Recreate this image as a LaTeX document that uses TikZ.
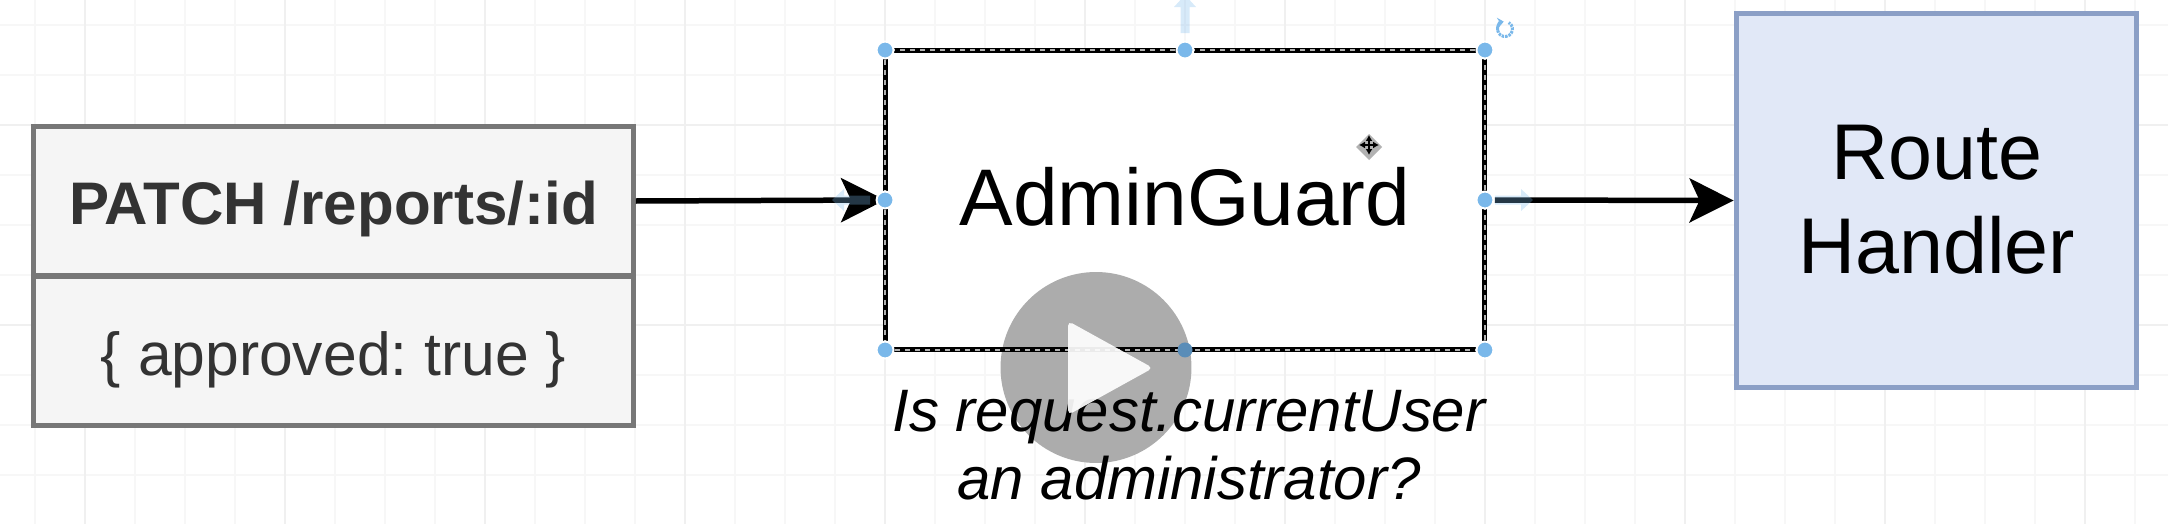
\documentclass[tikz,border=0pt]{standalone}
\usepackage{fontspec}
\setmainfont{Liberation Sans}
\usetikzlibrary{arrows.meta}
\definecolor{handleblue}{HTML}{7AB8EA}
\definecolor{handledark}{HTML}{5A8DB8}
\definecolor{tablefill}{HTML}{F5F5F5}
\definecolor{tableline}{HTML}{777777}
\definecolor{routefill}{HTML}{E1E8F7}
\definecolor{routeline}{HTML}{8B9FC6}
\definecolor{playgray}{HTML}{ACACAC}

\begin{document}
\begin{tikzpicture}[x=.02cm,y=-.02cm,
    minorline/.style={draw=black!3,line width=.04cm},
    majorline/.style={draw=black!6,line width=.05cm},
    tablebox/.style={rectangle,draw=tableline,fill=tablefill,line width=.1cm,
        minimum width=12cm,minimum height=3cm,inner sep=0pt,text=black!80,text depth=0pt},
    guardbox/.style={rectangle,fill=white,minimum width=12cm,minimum height=6cm,
        inner sep=0pt,outer sep=0pt,text depth=0pt},
    routebox/.style={rectangle,draw=routeline,fill=routefill,line width=.1cm,
        minimum width=8.02cm,minimum height=7.5cm,inner sep=0pt,align=center,text depth=0pt},
    flow/.style={line width=.11cm,-{Stealth[length=.88cm,width=.88cm,inset=.2cm]}},
    selectline/.style={draw=black,line width=.1cm},
    selectdash/.style={draw=white!70!black,line width=.03cm,dash pattern=on .1cm off .1cm},
    handle/.style={fill=handleblue,draw=white,line width=.04cm},
    hint/.style={fill=handleblue,fill opacity=.3},
]
\useasboundingbox (0,0) rectangle (2168,524);

\foreach \gx in {35,85,...,2135} \draw[minorline] (\gx,0) -- (\gx,524);
\foreach \gy in {25,75,...,525} \draw[minorline] (0,\gy) -- (2168,\gy);
\foreach \gx in {85,285,...,2085} \draw[majorline] (\gx,0) -- (\gx,524);
\foreach \gy in {125,325} \draw[majorline] (0,\gy) -- (2168,\gy);

\node[tablebox,text height=.96cm,font=\fontsize{34.2}{40}\selectfont\bfseries] (patch) at (333.5,201) {PATCH /reports/:id};
\node[tablebox,text height=1cm,font=\fontsize{34.5}{40}\selectfont\frenchspacing] (body) at (333.5,351) {\{ approved: true \}};
\node[guardbox,text height=1.04cm,font=\fontsize{45.7}{53.5}\selectfont] (guard) at (1185,200) {AdminGuard};
\node[routebox,text height=2.94cm,font=\fontsize{45}{53.5}\selectfont] (route) at (1936.5,200.5) {Route\\Handler};

\draw[flow] (patch.east) -- (guard.west);
\draw[flow,shorten <=.2cm] (guard.east) -- (route.west);

\fill[playgray] (1096,367.5) circle (1.91cm);

\draw[selectline] (guard.north west) rectangle (guard.south east);
\draw[selectdash] (guard.north west) rectangle (guard.south east);

\foreach \hx/\hy/\hang in {1185/33/90,870/200/180,1495/200/0}
    \fill[hint,shift={(\hx,\hy)},rotate=\hang] (0,-4.5) -- (26,-4.5) -- (26,-11) -- (38,0) -- (26,11) -- (26,4.5) -- (0,4.5) -- cycle;

\foreach \pos in {north west,north,north east,west,east,south west,south east}
    \filldraw[handle] (guard.\pos) circle (.17cm);
\filldraw[handle,fill=handledark,draw=none] (guard.south) circle (.15cm);

\coordinate (rotc) at (1505,29);
\draw[handleblue,line width=.06cm,-{Stealth[length=.12cm,width=.2cm]}] ([shift={(190:.15cm)}]rotc) arc[start angle=190,end angle=100,radius=.15cm];
\draw[handleblue,line width=.06cm,dash pattern=on .05cm off .02cm] ([shift={(190:.15cm)}]rotc) arc[start angle=190,end angle=420,radius=.15cm];

\fill[black!30] (1369,134) -- (1382,147) -- (1369,160) -- (1356,147) -- cycle;
\draw[line width=.04cm,{Latex[length=.12cm,width=.14cm]}-{Latex[length=.12cm,width=.14cm]}] (1359,145) -- (1379,145);
\draw[line width=.04cm,{Latex[length=.12cm,width=.14cm]}-{Latex[length=.12cm,width=.14cm]}] (1369,135) -- (1369,155);

\node[align=center,inner sep=0pt,font=\fontsize{34.1}{38.7}\selectfont\itshape] (note) at (1189,445.6) {Is request.currentUser\\an administrator?};

\fill[white,fill opacity=.92,rounded corners=.1cm] (1068,321) -- (1153,368) -- (1068,415) -- cycle;

\end{tikzpicture}
\end{document}
